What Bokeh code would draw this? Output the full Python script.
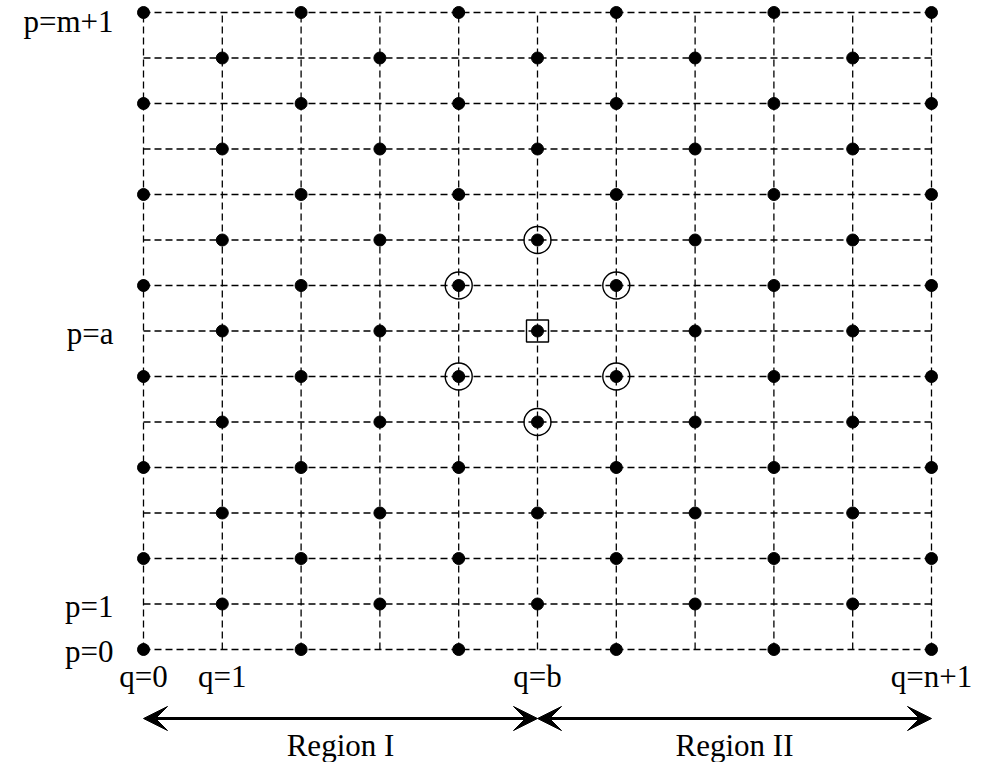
from bokeh.plotting import figure
from bokeh.models import Range1d, Arrow, VeeHead, ColumnDataSource
from bokeh.core.properties import value
from bokeh.embed import file_html
from bokeh.resources import INLINE

# ---- data ----
q_cols = [0, 1, 2, 3, 4, 5, 6, 7, 8, 9, 10]
p_rows = [0, 1, 2, 3, 4, 5, 6, 7, 8, 9, 10, 11, 12, 13, 14]
dot_cols_by_row = [
    [0, 2, 4, 6, 8, 10],
    [1, 3, 5, 7, 9],
    [0, 2, 4, 6, 8, 10],
    [1, 3, 5, 7, 9],
    [0, 2, 4, 6, 8, 10],
    [1, 3, 5, 7, 9],
    [0, 2, 4, 6, 8, 10],
    [1, 3, 5, 7, 9],
    [0, 2, 4, 6, 8, 10],
    [1, 3, 5, 7, 9],
    [0, 2, 4, 6, 8, 10],
    [1, 3, 5, 7, 9],
    [0, 2, 4, 6, 8, 10],
    [1, 3, 5, 7, 9],
    [0, 2, 4, 6, 8, 10],
]
circle_q = [5, 4, 6, 4, 6, 5]
circle_p = [9, 8, 8, 6, 6, 5]
square_q = [5]
square_p = [7]
row_label_p = [14, 7, 1, 0]
row_label_text = ["p=m+1", "p=a", "p=1", "p=0"]
col_label_q = [0, 1, 5, 10]
col_label_text = ["q=0", "q=1", "q=b", "q=n+1"]
region_names = ["Region I", "Region II"]
region_start = [0, 5]
region_end = [5, 10]

# ---- layout ----
W, H = 988, 762
px_q = 78.8       # pixels per q unit
px_p = 45.5       # pixels per p unit
q0_px = 143       # q=0 position from figure left
p0_px = 649       # p=0 position from figure top
row_label_dy = [9, 2, 2, 2]   # screen offsets of the row labels

x_lo = -q0_px / px_q
x_hi = (W - q0_px) / px_q
y_hi = p0_px / px_p
y_lo = (p0_px - H) / px_p

FONT = value("Liberation Serif")
FS = "31px"

p = figure(width=W, height=H, x_range=Range1d(x_lo, x_hi), y_range=Range1d(y_lo, y_hi),
           output_backend="svg", toolbar_location=None, x_axis_type=None, y_axis_type=None,
           min_border=0, min_border_left=0, min_border_right=0, min_border_top=0,
           min_border_bottom=0)
p.grid.visible = False
p.outline_line_color = None
p.background_fill_color = "white"
p.border_fill_color = "white"

qmin, qmax = min(q_cols), max(q_cols)
pmin, pmax = min(p_rows), max(p_rows)

# dashed grid
p.segment(x0=q_cols, y0=[pmin] * len(q_cols), x1=q_cols, y1=[pmax] * len(q_cols),
          line_color="black", line_width=1.3, line_dash="7 4")
p.segment(x0=[qmin] * len(p_rows), y0=p_rows, x1=[qmax] * len(p_rows), y1=p_rows,
          line_color="black", line_width=1.3, line_dash="7 4")

# dots
dx, dy = [], []
for row, cols in zip(p_rows, dot_cols_by_row):
    for c in cols:
        dx.append(c)
        dy.append(row)
p.scatter(dx, dy, marker="circle", size=12, color="black")

# rings and square
p.scatter(circle_q, circle_p, marker="circle", size=27, fill_color=None,
          line_color="black", line_width=1.4)
p.scatter(square_q, square_p, marker="square", size=22, fill_color=None,
          line_color="black", line_width=1.4)

# row labels
row_src = ColumnDataSource(dict(x=[qmin] * len(row_label_p), y=row_label_p,
                                text=row_label_text, dy=row_label_dy))
p.text(x="x", y="y", text="text", y_offset="dy", source=row_src,
       text_font=FONT, text_font_size=FS, text_align="right",
       text_baseline="middle", x_offset=-30, text_color="black")

# column labels
p.text(x=col_label_q, y=[pmin] * len(col_label_q), text=col_label_text,
       text_font=FONT, text_font_size=FS, text_align="center",
       text_baseline="top", y_offset=9, text_color="black")

# region arrows
arrow_y = pmin - 69 / px_p
for s, e in zip(region_start, region_end):
    p.add_layout(Arrow(x_start=s, y_start=arrow_y, x_end=e, y_end=arrow_y,
                       line_width=3, line_color="black",
                       start=VeeHead(size=24, fill_color="black", line_color="black", line_width=1),
                       end=VeeHead(size=24, fill_color="black", line_color="black", line_width=1)))

region_mid = [(s + e) / 2 for s, e in zip(region_start, region_end)]
p.text(x=region_mid, y=[pmin] * len(region_mid), text=region_names,
       text_font=FONT, text_font_size=FS, text_align="center",
       text_baseline="alphabetic", y_offset=96, text_color="black")

open("out.html", "w").write(file_html(p, INLINE))
